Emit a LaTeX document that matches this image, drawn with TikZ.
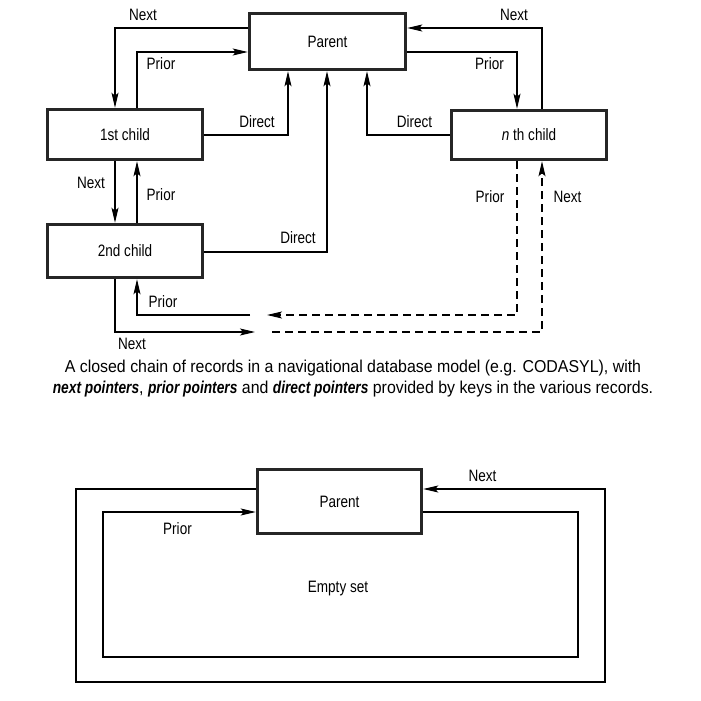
\documentclass[tikz,border=0pt]{standalone}
\usepackage{fontspec}
\setmainfont{Liberation Sans}[FakeStretch=0.82]
\newfontfamily\capfont{Liberation Sans}[FakeStretch=0.925]
\newfontfamily\capemph{Liberation Sans}[FakeStretch=0.8]
\newcommand\ptrname[1]{{\capemph\bfseries\itshape #1}}
\usetikzlibrary{arrows.meta}
\begin{document}
\begin{tikzpicture}[x=1pt,y=-1pt,font=\fontsize{16.5}{21}\selectfont]
			\tikzstyle{record}=[draw=black!85,line width=3.5pt,inner sep=0pt]
			\tikzstyle{ptr}=[line width=1.1pt,-{Stealth[length=15pt,width=7pt,inset=3pt]}]
			\tikzstyle{far}=[dash pattern=on 8pt off 5pt]
			\tikzstyle{tag}=[inner sep=0pt]
			\useasboundingbox (0,0) rectangle (701,701);
			% records of the chain
			\node[record,minimum width=156pt,minimum height=56pt] (par) at (327.5,41.5) {Parent};
			\node[record,minimum width=155pt,minimum height=50pt] (first) at (125,134.5) {1st child};
			\node[record,minimum width=155pt,minimum height=53pt] (second) at (125,251) {2nd child};
			\node[record,minimum width=155pt,minimum height=49pt] (last) at (529,135) {\textit{n} th child};
			% bend points
			\coordinate (nxa) at (115,28);
			\coordinate (pra) at (137,52);
			\coordinate (nxn) at (542,28);
			\coordinate (prn) at (517,52);
			\coordinate (dra) at (288,135);
			\coordinate (drb) at (327,252);
			\coordinate (drn) at (367,135);
			\coordinate (pbk) at (267,315);
			\coordinate (pbs) at (250,315);
			\coordinate (nbk) at (255,332);
			\coordinate (nbs) at (272,332);
			% pointers
			\draw[ptr] (par.west |- nxa) -| (first.north -| nxa);
			\draw[ptr] (first.north -| pra) |- (par.west |- pra);
			\draw[ptr] (last.north -| nxn) |- (par.east |- nxn);
			\draw[ptr] (par.east |- prn) -| (last.north -| prn);
			\draw[ptr] (first.east |- dra) -| (par.south -| dra);
			\draw[ptr] (second.east |- drb) -| (par.south -| drb);
			\draw[ptr] (last.west |- drn) -| (par.south -| drn);
			\draw[ptr] (first.south -| nxa) -- (second.north -| nxa);
			\draw[ptr] (second.north -| pra) -- (first.south -| pra);
			\draw[ptr,far] (last.south -| prn) |- (pbk);
			\draw[ptr] (pbs) -| (second.south -| pra);
			\draw[ptr] (second.south -| nxa) |- (nbk);
			\draw[ptr,far] (nbs) -| (last.south -| nxn);
			% labels
			\node[tag] (l1) at (143,15) {Next};
			\node[tag] (l2) at (161,64) {Prior};
			\node[tag] (l3) at (257,122) {Direct};
			\node[tag] (l4) at (298,238) {Direct};
			\node[tag] (l5) at (514,15) {Next};
			\node[tag] (l6) at (489.5,64) {Prior};
			\node[tag] (l7) at (414.5,122) {Direct};
			\node[tag] (l8) at (91,183) {Next};
			\node[tag] (l9) at (161,195) {Prior};
			\node[tag] (l10) at (490,197) {Prior};
			\node[tag] (l11) at (567.5,197) {Next};
			\node[tag] (l12) at (163,302) {Prior};
			\node[tag] (l13) at (132,344) {Next};
			% caption
			\node[tag,align=center,font=\capfont\fontsize{17.2}{21}\selectfont] (cap) at (353,378.5) {A closed chain of records in a navigational database model (e.g. CODASYL), with\\
				\ptrname{next pointers}, \ptrname{prior pointers} and \ptrname{direct pointers} provided by keys in the various records.};
			% empty set
			\node[record,minimum width=164pt,minimum height=64pt] (pb) at (339.5,501.5) {Parent};
			\coordinate (oa) at (76,682);
			\coordinate (ob) at (605,489);
			\coordinate (ia) at (578,657);
			\coordinate (ib) at (103,512);
			\draw[ptr] (pb.west |- ob) -| (oa) -| (ob) -- (pb.east |- ob);
			\draw[ptr] (pb.east |- ib) -| (ia) -| (ib) -- (pb.west |- ib);
			\node[tag] (l14) at (482.5,476) {Next};
			\node[tag] (l15) at (177.5,529) {Prior};
			\node[tag] (es) at (338,589) {Empty set};
		\end{tikzpicture}
\end{document}
